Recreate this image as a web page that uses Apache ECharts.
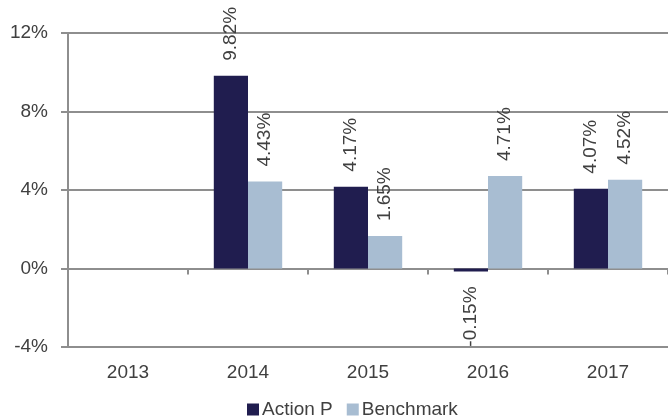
<!DOCTYPE html>
<html>
<head>
<meta charset="utf-8">
<script src="https://cdn.jsdelivr.net/npm/echarts@6/dist/echarts.min.js"></script>
<style>
  html, body { margin: 0; padding: 0; background: #fff; }
  #chart { width: 668px; height: 417px; }
</style>
</head>
<body>
<div id="chart"></div>
<script>
var years = ['2013', '2014', '2015', '2016', '2017'];
var actionP = [null, 9.82, 4.17, -0.15, 4.07];
var benchmark = [null, 4.43, 1.65, 4.71, 4.52];
var seriesNames = ['Action P', 'Benchmark'];

var textColor = '#404040';
var lineColor = '#8e8e8e';
var font = 'Liberation Sans';

// negative bars get their label hanging below the bar
const toItems = (arr) => arr.map(v => {
    if (v !== null && v < 0) {
        return { value: v, label: { position: 'bottom', align: 'right' } };
    }
    return v;
});

var barLabel = {
    show: true,
    position: 'top',
    rotate: 90,
    align: 'left',
    verticalAlign: 'middle',
    distance: 15,
    color: textColor,
    fontFamily: font,
    fontSize: 19,
    formatter: (p) => p.value.toFixed(2) + '%'
};

var chart = echarts.init(document.getElementById('chart'));

var option = {
    animation: false,
    textStyle: { fontFamily: font },
    grid: { left: 68, right: 0, top: 33, bottom: 70 },
    legend: {
        data: seriesNames,
        left: 247,
        top: 400,
        padding: 0,
        itemWidth: 12,
        itemHeight: 12,
        itemGap: 14,
        icon: 'rect',
        textStyle: { color: textColor, fontSize: 19, fontFamily: font, padding: [0, 0, 0, -2] }
    },
    xAxis: [
        {
            type: 'category',
            data: years,
            position: 'bottom',
            axisLine: { show: false, onZero: false },
            axisTick: { show: false },
            axisLabel: { color: textColor, fontSize: 19, margin: 16 }
        },
        {
            // zero line with the little category ticks
            type: 'category',
            data: years,
            position: 'top',
            axisLine: { show: true, onZero: true, lineStyle: { color: lineColor, width: 2 } },
            axisTick: { show: true, inside: true, length: 6, lineStyle: { color: lineColor, width: 2 } },
            axisLabel: { show: false }
        }
    ],
    yAxis: {
        type: 'value',
        min: -4,
        max: 12,
        interval: 4,
        axisLine: { show: true, lineStyle: { color: lineColor, width: 2 } },
        axisTick: { show: true, length: 7, lineStyle: { color: lineColor, width: 2 } },
        axisLabel: { color: textColor, fontSize: 19, margin: 20, formatter: '{value}%' },
        splitLine: { show: true, lineStyle: { color: lineColor, width: 2 } }
    },
    series: [
        {
            name: seriesNames[0],
            type: 'bar',
            data: toItems(actionP),
            barGap: 0,
            barCategoryGap: '43%',
            itemStyle: { color: '#201d4f' },
            label: barLabel
        },
        {
            name: seriesNames[1],
            type: 'bar',
            data: toItems(benchmark),
            itemStyle: { color: '#a8bdd2' },
            label: barLabel
        }
    ]
};

chart.setOption(option);
</script>
</body>
</html>
